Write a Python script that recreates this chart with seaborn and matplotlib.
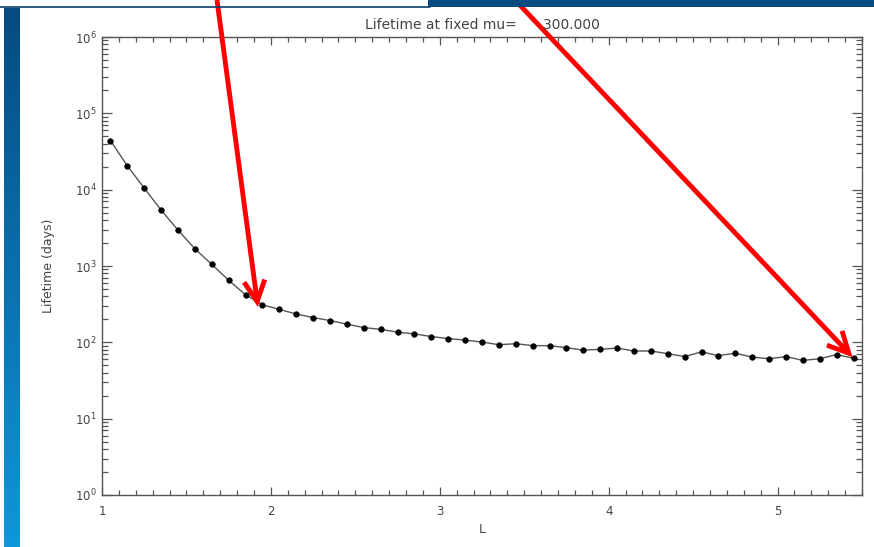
import numpy as np
import pandas as pd
import matplotlib
matplotlib.use("Agg")
import matplotlib.pyplot as plt
import seaborn as sns
from matplotlib.ticker import LogLocator, MultipleLocator, FixedLocator, NullFormatter
from matplotlib.colors import LinearSegmentedColormap

L_values = [1.05, 1.15, 1.25, 1.35, 1.45, 1.55, 1.65, 1.75, 1.85, 1.95,
            2.05, 2.15, 2.25, 2.35, 2.45, 2.55, 2.65, 2.75, 2.85, 2.95,
            3.05, 3.15, 3.25, 3.35, 3.45, 3.55, 3.65, 3.75, 3.85, 3.95,
            4.05, 4.15, 4.25, 4.35, 4.45, 4.55, 4.65, 4.75, 4.85, 4.95,
            5.05, 5.15, 5.25, 5.35, 5.45]
lifetime_days = [44000, 20500, 10500, 5400, 2950, 1680, 1050, 650, 420, 310,
                 270, 235, 211, 193, 173, 156, 148, 136, 129, 119,
                 112, 107, 101, 93, 96, 90.5, 90.5, 85, 79, 81,
                 84, 77, 77, 71, 65, 75, 67, 72, 64, 61,
                 65, 58, 61, 69, 62]
x_ticks = [1, 2, 3, 4, 5]
x_tick_labels = ["1", "2", "3", "4", "5"]
y_ticks = [1, 10, 100, 1000, 10000, 100000, 1000000]
y_tick_labels = ["$10^{0}$", "$10^{1}$", "$10^{2}$", "$10^{3}$", "$10^{4}$", "$10^{5}$", "$10^{6}$"]
title_text = "Lifetime at fixed mu=      300.000"
x_label = "L"
y_label = "Lifetime (days)"

df = pd.DataFrame({"L": L_values, "lifetime": lifetime_days})

sns.set_style("ticks")
plt.rcParams['font.family'] = ['DejaVu Sans']
axis_col = "#555555"
text_col = "#444444"

W, H = 874, 547
fig = plt.figure(figsize=(W / 100, H / 100), dpi=100)

ax = fig.add_axes([102 / W, 1 - 495 / H, (862 - 102) / W, (495 - 37) / H])
sns.lineplot(data=df, x="L", y="lifetime", ax=ax, color="#555555", linewidth=1.0,
             marker="o", markersize=4, markerfacecolor="black", markeredgecolor="black",
             markeredgewidth=0.5)
ax.set_yscale("log")
ax.set_xlim(1, 5.5)
ax.set_ylim(1, 1e6)

ax.xaxis.set_major_locator(FixedLocator(x_ticks))
ax.set_xticklabels(x_tick_labels)
ax.xaxis.set_minor_locator(MultipleLocator(0.1))
ax.yaxis.set_major_locator(FixedLocator(y_ticks))
ax.set_yticklabels(y_tick_labels)
ax.yaxis.set_minor_locator(LogLocator(base=10, subs=np.arange(2, 10), numticks=20))
ax.yaxis.set_minor_formatter(NullFormatter())

for sp in ax.spines.values():
    sp.set_color(axis_col)
    sp.set_linewidth(1.0)
ax.tick_params(which="both", direction="in", top=True, right=True, color=axis_col,
               labelcolor=text_col, labelsize=8.5, width=0.9)
ax.tick_params(axis="x", which="major", length=6, pad=7)
ax.tick_params(axis="x", which="minor", length=3.5)
ax.tick_params(axis="y", which="major", length=7, pad=4)
ax.tick_params(axis="y", which="minor", length=4)

ax.set_xlabel(x_label, color=text_col, fontsize=9, labelpad=4)
ax.set_ylabel(y_label, color=text_col, fontsize=9, labelpad=14)
ax.set_title(title_text, color=text_col, fontsize=10, pad=6)

# decorative slide frame: left gradient bar, top line and top-right bar
bar_ax = fig.add_axes([4 / W, 0, 16 / W, 1 - 8 / H])
grad = np.linspace(0, 1, 256).reshape(-1, 1)
cmap = LinearSegmentedColormap.from_list("bar", ["#064a82", "#0f97d9"])
bar_ax.imshow(grad, aspect="auto", cmap=cmap, extent=[0, 1, 0, 1], origin="upper")
bar_ax.axis("off")
fig.add_artist(plt.Line2D([0, 430 / W], [1 - 7 / H, 1 - 7 / H], color="#0b3d6b", linewidth=1.2,
                          transform=fig.transFigure))
fig.add_artist(plt.Rectangle((428 / W, 1 - 7 / H), 1 - 428 / W, 7 / H, color="#064a82",
                             transform=fig.transFigure, linewidth=0))

# red arrows
for tip, tail in [((1.923, 291), (217 / W, 1.0)), ((5.444, 64), (515 / W, 1.0))]:
    ax.annotate("", xy=tip, xycoords="data", xytext=tail, textcoords="figure fraction",
                annotation_clip=False,
                arrowprops=dict(arrowstyle="->,head_length=1.5,head_width=0.75",
                                color="#ff0000", linewidth=3.5, shrinkA=0, shrinkB=0,
                                joinstyle="miter", capstyle="butt"))

fig.savefig("out.png", dpi=100)
